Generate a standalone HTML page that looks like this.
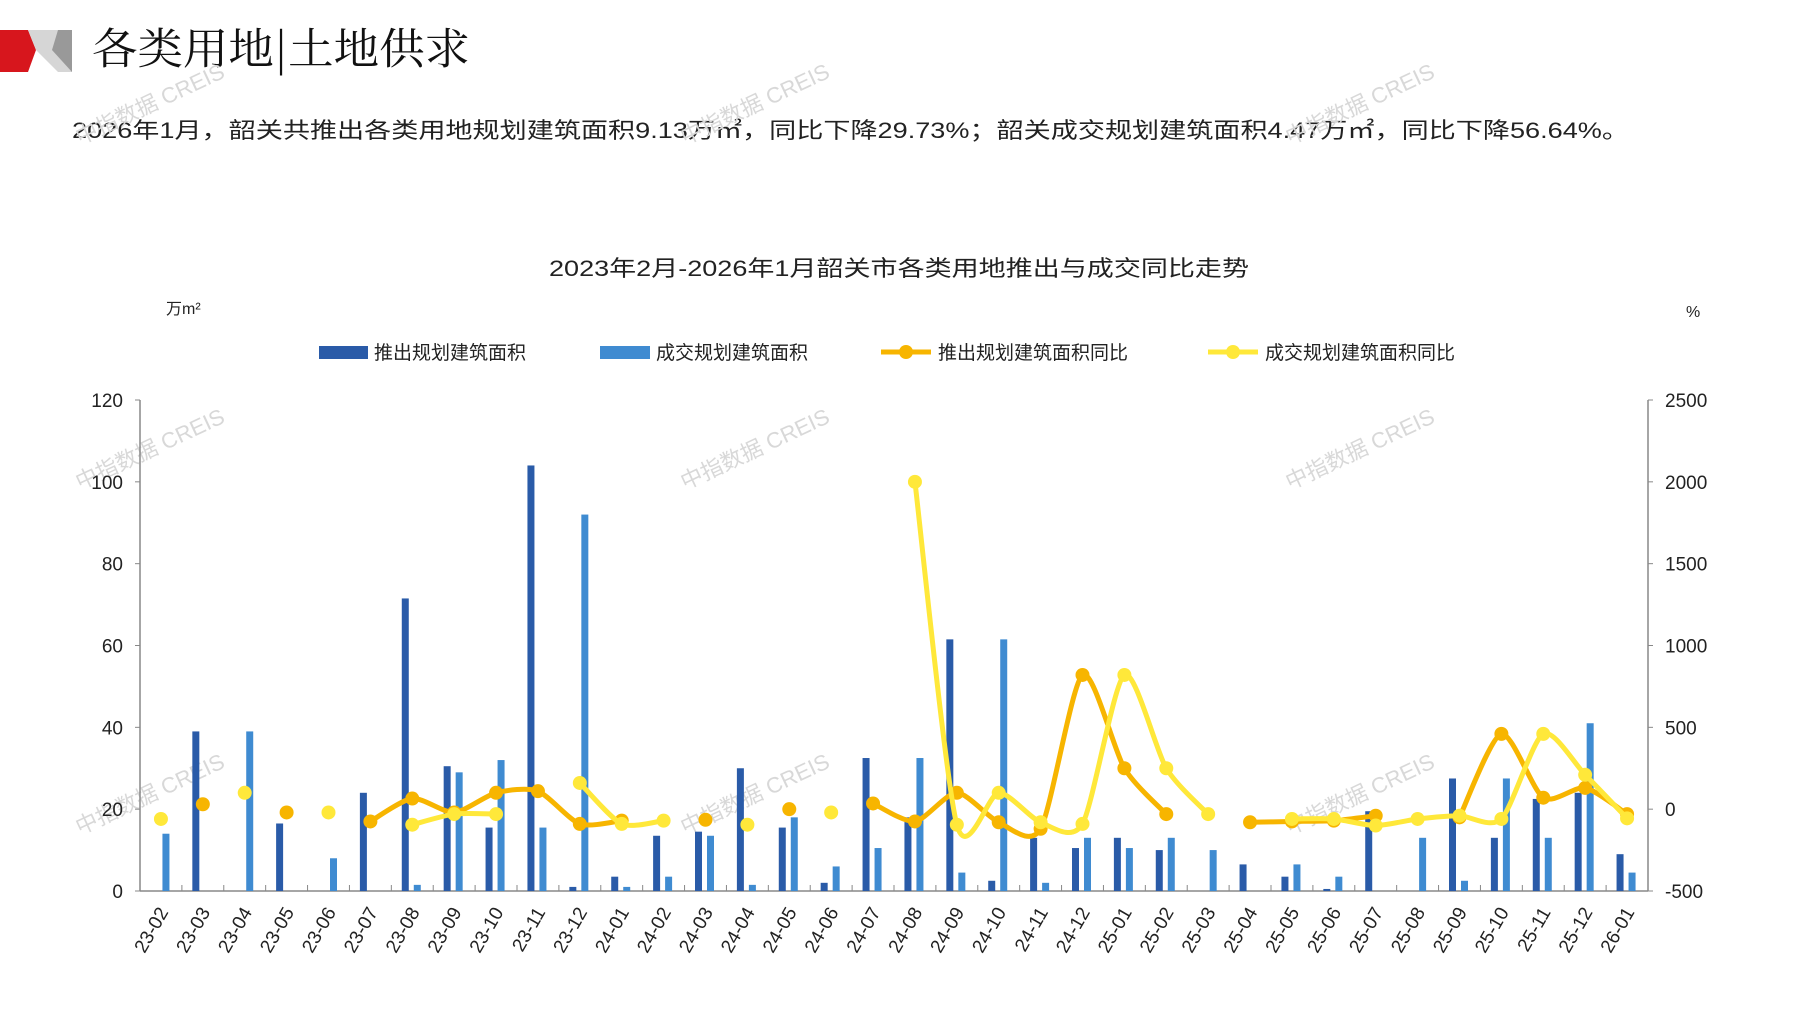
<!DOCTYPE html>
<html><head><meta charset="utf-8">
<style>
html,body{margin:0;padding:0;background:#fff;}
body{width:1797px;height:1010px;overflow:hidden;position:relative;font-family:"Liberation Sans","Noto Sans CJK SC",sans-serif;}
svg{position:absolute;left:0;top:0;}
</style></head>
<body>
<svg id="s" width="1797" height="1010" viewBox="0 0 1797 1010" xmlns="http://www.w3.org/2000/svg" font-family="Liberation Sans, Noto Sans CJK SC, sans-serif">
<polygon points="0,30 28,30 36,50 28,72 0,72" fill="#d7161d"/>
<polygon points="28,30 72,30 72,72 58,72 36,50" fill="#d6d6d6"/>
<polygon points="58,30 72,30 72,72 52,50" fill="#999"/>
<text x="92" y="64" font-size="43" fill="#111" font-family="Noto Serif CJK SC, Noto Sans CJK SC, serif" textLength="378" lengthAdjust="spacingAndGlyphs">各类用地|土地供求</text>
<text x="72" y="138" font-size="22" fill="#222" textLength="1557" lengthAdjust="spacingAndGlyphs">2026年1月，韶关共推出各类用地规划建筑面积9.13万㎡，同比下降29.73%；韶关成交规划建筑面积4.47万㎡，同比下降56.64%。</text>
<text x="899" y="276" font-size="22" fill="#222" text-anchor="middle" textLength="700" lengthAdjust="spacingAndGlyphs">2023年2月-2026年1月韶关市各类用地推出与成交同比走势</text>
<text x="166" y="314" font-size="16" fill="#222">万m²</text>
<text x="1686" y="317" font-size="16" fill="#222">%</text>
<rect x="319" y="346" width="49" height="13" fill="#2a5ba8"/>
<text x="374" y="359" font-size="19" fill="#222">推出规划建筑面积</text>
<rect x="600" y="346" width="50" height="13" fill="#3f8bd1"/>
<text x="656" y="359" font-size="19" fill="#222">成交规划建筑面积</text>
<line x1="881" y1="352" x2="931" y2="352" stroke="#f7b500" stroke-width="5"/><circle cx="906" cy="352" r="7" fill="#f7b500"/>
<text x="938" y="359" font-size="19" fill="#222">推出规划建筑面积同比</text>
<line x1="1208" y1="352" x2="1258" y2="352" stroke="#ffe83a" stroke-width="5"/><circle cx="1233" cy="352" r="7" fill="#ffe83a"/>
<text x="1265" y="359" font-size="19" fill="#222">成交规划建筑面积同比</text>
<g id="g"></g>
</svg>
<script>
var g=document.getElementById('g');var NS='http://www.w3.org/2000/svg';
function el(t,a,txt){var e=document.createElementNS(NS,t);for(var k in a)e.setAttribute(k,a[k]);if(txt!=null)e.textContent=txt;g.appendChild(e);return e;}
var L=140,R=1648,T=400,B=891,N=36,cw=(R-L)/N;
var labs=[];for(var i=0;i<N;i++){var y=23+Math.floor((i+1)/12),m=((i+1)%12)+1;labs.push(y+'-'+(m<10?'0':'')+m);}
var dark=[0,39,0,16.5,0,24,71.5,30.5,15.5,104,1,3.5,13.5,14.5,30,15.5,2,32.5,18,61.5,2.5,13,10.5,13,10,0,6.5,3.5,0.5,19.5,0,27.5,13,22.5,24,9];
var light=[14,0,39,0,8,0,1.5,29,32,15.5,92,1,3.5,13.5,1.5,18,6,10.5,32.5,4.5,61.5,2,13,10.5,13,10,0,6.5,3.5,0,13,2.5,27.5,13,41,4.5];
var n=null;
var org=[n,30,n,-20,n,-75,65,-20,100,110,-90,-70,n,-65,n,0,n,35,-75,100,-80,-120,820,250,-30,n,-80,-75,-70,-40,n,-50,460,70,130,-30];
var yel=[-60,n,100,n,-20,n,-95,-30,-30,n,160,-90,-70,n,-95,n,-20,n,2000,-95,100,-80,-90,820,250,-30,n,-60,-60,-100,-60,-40,-60,460,210,-56];
function yl(v){return B-v/120*(B-T);}
function yr(v){return B-(v+500)/3000*(B-T);}
function cx(i){return L+cw*(i+0.5);}
[[80,145],[685,145],[1290,145],[80,490],[685,490],[1290,490],[80,835],[685,835],[1290,835]].forEach(function(p){
 el('text',{x:p[0],y:p[1],'font-size':22,fill:'#d8d8d8',transform:'rotate(-25 '+p[0]+' '+p[1]+')'},'中指数据 CREIS');});
el('line',{x1:L,y1:T,x2:L,y2:B,stroke:'#888','stroke-width':1.5});
el('line',{x1:R,y1:T,x2:R,y2:B,stroke:'#888','stroke-width':1.5});
el('line',{x1:L,y1:B,x2:R,y2:B,stroke:'#888','stroke-width':1.5});
for(var v=0;v<=120;v+=20){var y=yl(v);el('line',{x1:L-5,y1:y,x2:L,y2:y,stroke:'#888'});el('text',{x:123,y:y+7,'font-size':19,fill:'#222','text-anchor':'end'},v);}
for(var v=-500;v<=2500;v+=500){var y=yr(v);el('line',{x1:R,y1:y,x2:R+5,y2:y,stroke:'#888'});el('text',{x:1665,y:y+7,'font-size':19,fill:'#222'},v);}
for(var i=0;i<=N;i++){var x=L+cw*i;el('line',{x1:x,y1:B,x2:x,y2:B-6,stroke:'#888'});}
for(var i=0;i<N;i++){var c=cx(i);
 if(dark[i]>0)el('rect',{x:c-10.5,y:yl(dark[i]),width:7,height:B-yl(dark[i]),fill:'#2a5ba8'});
 if(light[i]>0)el('rect',{x:c+1.5,y:yl(light[i]),width:7,height:B-yl(light[i]),fill:'#3f8bd1'});
 el('text',{x:c+8,y:912,'font-size':19,fill:'#222','text-anchor':'end',transform:'rotate(-60 '+(c+8)+' 912)'},labs[i]);}
function series(d,col){var segs=[],cur=[];
 for(var i=0;i<N;i++){if(d[i]==null){if(cur.length)segs.push(cur);cur=[];}else cur.push([cx(i),yr(d[i])]);}
 if(cur.length)segs.push(cur);
 segs.forEach(function(p){if(p.length>1){var s='M'+p[0][0]+','+p[0][1],f=8;
  for(var k=0;k<p.length-1;k++){var p0=p[k-1]||p[k],p1=p[k],p2=p[k+1],p3=p[k+2]||p2;
   var c1x=p1[0]+(p2[0]-p0[0])/f,c1y=p1[1]+(p2[1]-p0[1])/f,c2x=p2[0]-(p3[0]-p1[0])/f,c2y=p2[1]-(p3[1]-p1[1])/f;
   s+=' C'+c1x+','+c1y+' '+c2x+','+c2y+' '+p2[0]+','+p2[1];}
  el('path',{d:s,fill:'none',stroke:col,'stroke-width':5,'stroke-linejoin':'round'});}
  p.forEach(function(q){el('circle',{cx:q[0],cy:q[1],r:7,fill:col});});});}
series(org,'#f7b500');series(yel,'#ffe83a');
</script>
</body></html>
